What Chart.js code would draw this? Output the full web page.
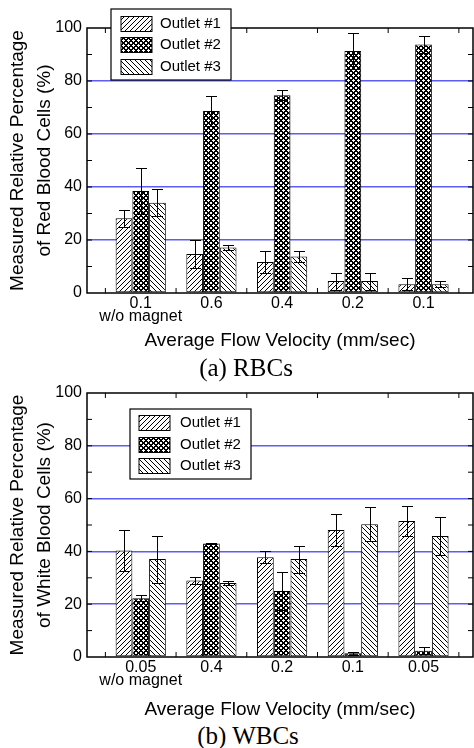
<!DOCTYPE html>
<html>
<head>
<meta charset="utf-8">
<script src="https://cdn.jsdelivr.net/npm/chart.js@4.4.1/dist/chart.umd.min.js"></script>
<style>
  body { margin: 0; background: #fff; width: 474px; height: 748px; position: relative; overflow: hidden; }
  canvas { position: absolute; left: 0; }
  .cap { position: absolute; width: 200px; text-align: center; font-family: "Liberation Serif", "Times New Roman", serif; font-size: 25px; line-height: 25px; color: #000; }
</style>
</head>
<body>
<canvas id="rbc" width="474" height="352" style="top:0"></canvas>
<canvas id="wbc" width="474" height="346" style="top:375px"></canvas>
<div class="cap" style="left:146px; top:355px">(a) RBCs</div>
<div class="cap" style="left:148px; top:723px">(b) WBCs</div>
<script>
// data
const seriesNames = ["Outlet #1", "Outlet #2", "Outlet #3"];
const yTicks = [0, 20, 40, 60, 80, 100];

const rbcLabels = [["0.1", "w/o magnet"], "0.6", "0.4", "0.2", "0.1"];
const rbcOutlet1 = [28.2, 14.7, 11.7, 4.5, 3.3];
const rbcOutlet2 = [38.5, 68.7, 74.6, 91.3, 93.8];
const rbcOutlet3 = [34.1, 17.2, 13.8, 4.5, 3.3];
const rbcErr1 = [3.2, 5.3, 4.0, 3.2, 2.2];
const rbcErr2 = [8.5, 5.6, 1.9, 6.7, 3.2];
const rbcErr3 = [5.0, 0.8, 2.2, 3.2, 1.2];

const wbcLabels = [["0.05", "w/o magnet"], "0.4", "0.2", "0.1", "0.05"];
const wbcOutlet1 = [40.3, 29.0, 37.8, 48.1, 51.5];
const wbcOutlet2 = [22.3, 43.0, 25.0, 1.4, 2.4];
const wbcOutlet3 = [37.1, 28.0, 37.1, 50.3, 45.8];
const wbcErr1 = [7.7, 1.3, 2.2, 6.1, 5.8];
const wbcErr2 = [1.1, 0.3, 7.3, 0.5, 1.4];
const wbcErr3 = [8.9, 0.8, 5.1, 6.4, 7.1];

Chart.defaults.font.family = '"Liberation Sans", Arial, sans-serif';
Chart.defaults.color = "#000";

// pixel hatch fills: "/" lines, dense cross, "\" lines
function hatch(kind) {
  const s = 5;
  const c = document.createElement("canvas");
  c.width = s;
  c.height = s;
  const g = c.getContext("2d");
  g.fillStyle = "#fff";
  g.fillRect(0, 0, s, s);
  g.fillStyle = "#000";
  for (let y = 0; y < s; y++) {
    for (let x = 0; x < s; x++) {
      const a = (x + y) % s;
      const b = (x - y + s) % s;
      let on = false;
      if (kind === "fwd") on = a === 0;
      if (kind === "back") on = b === 0;
      if (kind === "cross") on = a <= 1 || b <= 1;
      if (on) g.fillRect(x, y, 1, 1);
    }
  }
  return g.createPattern(c, "repeat");
}
const fills = [hatch("fwd"), hatch("cross"), hatch("back")];

const errorBars = {
  id: "errorBars",
  afterDatasetsDraw(chart) {
    const { ctx, scales: { y } } = chart;
    ctx.save();
    ctx.strokeStyle = "#000";
    ctx.lineWidth = 1;
    chart.data.datasets.forEach((ds, di) => {
      chart.getDatasetMeta(di).data.forEach((bar, i) => {
        const v = ds.data[i].y;
        const e = ds.errors[i];
        const hi = Math.round(y.getPixelForValue(v + e)) + 0.5;
        const lo = Math.round(y.getPixelForValue(Math.max(0, v - e))) + 0.5;
        const x = Math.round(bar.x) + 0.5;
        ctx.beginPath();
        ctx.moveTo(x, hi);
        ctx.lineTo(x, lo);
        ctx.moveTo(x - 5.5, hi);
        ctx.lineTo(x + 5.5, hi);
        ctx.moveTo(x - 5.5, lo);
        ctx.lineTo(x + 5.5, lo);
        ctx.stroke();
      });
    });
    ctx.restore();
  }
};

const frame = {
  id: "frame",
  afterDraw(chart) {
    const { ctx, chartArea: a, scales: { x, y } } = chart;
    ctx.save();
    ctx.strokeStyle = "#000";
    ctx.lineWidth = 1.5;
    ctx.strokeRect(a.left, a.top, a.right - a.left, a.bottom - a.top);
    ctx.lineWidth = 1;
    ctx.beginPath();
    for (let v = 10; v < 100; v += 10) {
      const py = y.getPixelForValue(v);
      ctx.moveTo(a.left, py);
      ctx.lineTo(a.left + 5, py);
      ctx.moveTo(a.right, py);
      ctx.lineTo(a.right - 5, py);
    }
    for (let v = 0.5; v < 6; v += 1) {
      const px = x.getPixelForValue(v);
      ctx.moveTo(px, a.bottom);
      ctx.lineTo(px, a.bottom - 5);
      ctx.moveTo(px, a.top);
      ctx.lineTo(px, a.top + 5);
    }
    ctx.stroke();
    ctx.restore();
  }
};

const insideLegend = {
  id: "insideLegend",
  afterDraw(chart, args, o) {
    const { ctx } = chart;
    ctx.save();
    ctx.fillStyle = "#fff";
    ctx.fillRect(o.x, o.y, o.w, o.h);
    ctx.strokeStyle = "#000";
    ctx.lineWidth = 1.2;
    ctx.strokeRect(o.x, o.y, o.w, o.h);
    ctx.font = '15px "Liberation Sans", Arial, sans-serif';
    ctx.textBaseline = "middle";
    chart.data.datasets.forEach((ds, i) => {
      const cy = o.y + o.rows[i];
      ctx.fillStyle = ds.backgroundColor;
      ctx.fillRect(o.x + o.sx, cy - 7.5, 31, 15);
      ctx.lineWidth = 1;
      ctx.strokeRect(o.x + o.sx, cy - 7.5, 31, 15);
      ctx.fillStyle = "#000";
      ctx.fillText(ds.label, o.x + o.tx, cy);
    });
    ctx.restore();
  }
};

function makeChart(id, labels, values, errors, yTitle, box) {
  new Chart(document.getElementById(id), {
    type: "bar",
    data: {
      datasets: values.map((vals, k) => ({
        label: seriesNames[k],
        data: vals.map((v, i) => ({ x: i + 1, y: v })),
        errors: errors[k],
        backgroundColor: fills[k],
        borderColor: "#000",
        borderWidth: 1,
        borderSkipped: false,
        categoryPercentage: 0.71,
        barPercentage: 1
      }))
    },
    options: {
      responsive: false,
      animation: false,
      layout: { padding: { top: box.top, right: 1, left: 0, bottom: 0 } },
      scales: {
        x: {
          type: "linear",
          min: 0.24,
          max: 5.7,
          offset: false,
          grid: { display: false, drawTicks: false, offset: false },
          border: { display: false },
          afterBuildTicks: s => { s.ticks = labels.map((l, i) => ({ value: i + 1 })); },
          ticks: {
            autoSkip: false,
            maxRotation: 0,
            padding: 4,
            font: { size: 16, lineHeight: 0.82 },
            callback: v => labels[v - 1]
          },
          title: {
            display: true,
            text: "Average Flow Velocity (mm/sec)",
            font: { size: 19, lineHeight: 1.2 },
            padding: 0
          },
          afterFit: s => { s.height = box.xh; }
        },
        y: {
          min: 0,
          max: 100,
          z: 1,
          afterBuildTicks: s => { s.ticks = yTicks.map(v => ({ value: v })); },
          grid: {
            drawTicks: false,
            lineWidth: 1.5,
            color: c => (c.tick && c.tick.value > 0 && c.tick.value < 100) ? "#5c5cf6" : "rgba(0,0,0,0)"
          },
          border: { display: false },
          ticks: { padding: 5, font: { size: 16 } },
          title: {
            display: true,
            text: yTitle,
            font: { size: 19, lineHeight: 1.42 },
            padding: { top: 4, bottom: 0 }
          },
          afterFit: s => { s.width = 87; }
        }
      },
      plugins: {
        legend: { display: false },
        tooltip: { enabled: false },
        insideLegend: box.legend
      }
    },
    plugins: [errorBars, frame, insideLegend]
  });
}

makeChart("rbc", rbcLabels,
  [rbcOutlet1, rbcOutlet2, rbcOutlet3],
  [rbcErr1, rbcErr2, rbcErr3],
  ["Measured Relative Percentage", "of Red Blood Cells (%)"],
  { top: 28, xh: 59, legend: { x: 111, y: 9, w: 120, h: 71, rows: [15, 36, 58], sx: 10, tx: 49 } });

makeChart("wbc", wbcLabels,
  [wbcOutlet1, wbcOutlet2, wbcOutlet3],
  [wbcErr1, wbcErr2, wbcErr3],
  ["Measured Relative Percentage", "of White Blood Cells (%)"],
  { top: 18, xh: 64, legend: { x: 130, y: 34, w: 121, h: 70, rows: [14, 36, 57], sx: 9, tx: 50 } });
</script>
</body>
</html>
